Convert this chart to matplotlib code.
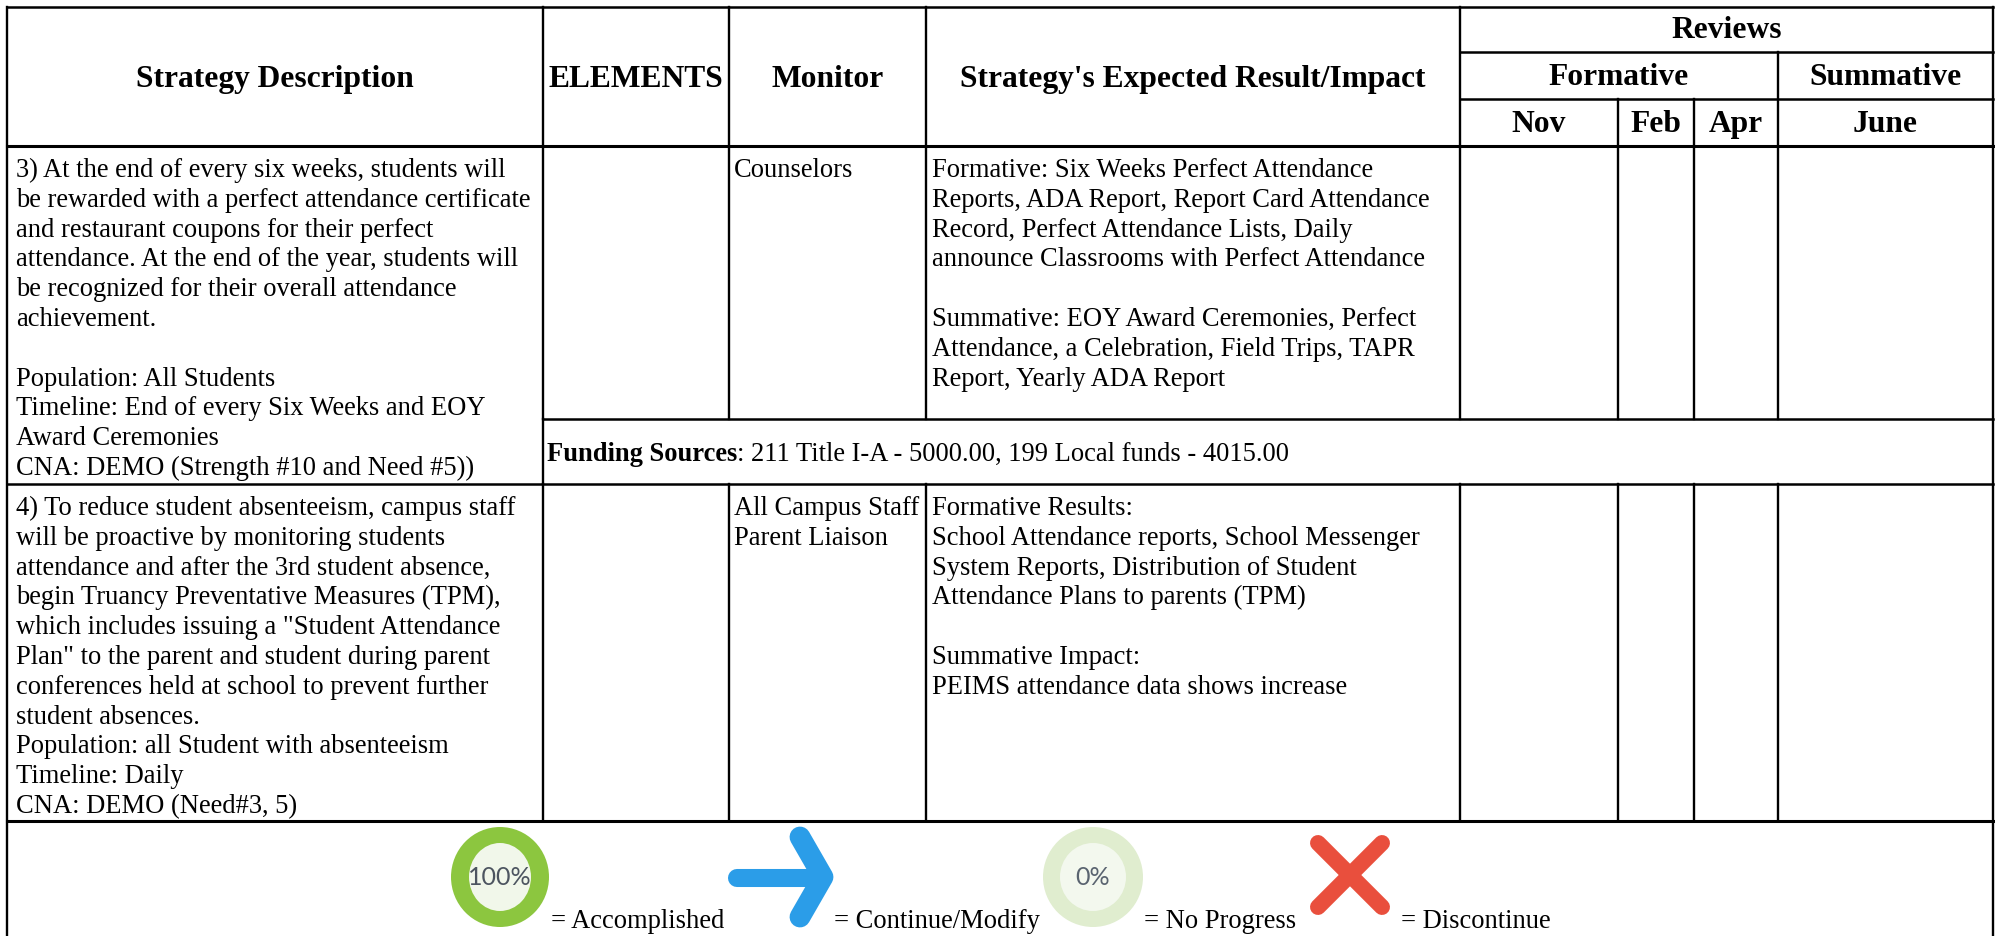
#!/usr/bin/env python3
import matplotlib
matplotlib.use('Agg')
import matplotlib.pyplot as plt
from matplotlib.patches import Ellipse

W, H = 1995, 937
BODY = 19.1
HEAD = 22.7
LINE = 29.8

# table text
headers = ['Strategy Description', 'ELEMENTS', 'Monitor', "Strategy's Expected Result/Impact"]
months = ['Nov', 'Feb', 'Apr', 'June']

strategy_3 = [
    '3) At the end of every six weeks, students will',
    'be rewarded with a perfect attendance certificate',
    'and restaurant coupons for their perfect',
    'attendance. At the end of the year, students will',
    'be recognized for their overall attendance',
    'achievement.',
    '',
    'Population: All Students',
    'Timeline: End of every Six Weeks and EOY',
    'Award Ceremonies',
    'CNA: DEMO (Strength #10 and Need #5))',
]
monitor_3 = ['Counselors']
result_3 = [
    'Formative: Six Weeks Perfect Attendance',
    'Reports, ADA Report, Report Card Attendance',
    'Record, Perfect Attendance Lists, Daily',
    'announce Classrooms with Perfect Attendance',
    '',
    'Summative: EOY Award Ceremonies, Perfect',
    'Attendance, a Celebration, Field Trips, TAPR',
    'Report, Yearly ADA Report',
]
funding = ': 211 Title I-A - 5000.00, 199 Local funds - 4015.00'

strategy_4 = [
    '4) To reduce student absenteeism, campus staff',
    'will be proactive by monitoring students',
    'attendance and after the 3rd student absence,',
    'begin Truancy Preventative Measures (TPM),',
    'which includes issuing a "Student Attendance',
    'Plan" to the parent and student during parent',
    'conferences held at school to prevent further',
    'student absences.',
    'Population: all Student with absenteeism',
    'Timeline: Daily',
    'CNA: DEMO (Need#3, 5)',
]
monitor_4 = ['All Campus Staff', 'Parent Liaison']
result_4 = [
    'Formative Results:',
    'School Attendance reports, School Messenger',
    'System Reports, Distribution of Student',
    'Attendance Plans to parents (TPM)',
    '',
    'Summative Impact:',
    'PEIMS attendance data shows increase',
]

legend_labels = ['= Accomplished', '= Continue/Modify', '= No Progress', '= Discontinue']
legend_x = [551, 834, 1144, 1401]

# grid positions in pixels
col_x = [7, 543, 729, 926, 1460, 1618, 1694, 1778, 1993]
row_y = [8, 53, 100, 147, 420, 485, 822]

plt.rcParams['font.family'] = ['Liberation Serif', 'DejaVu Serif']
fig = plt.figure(figsize=(W / 100, H / 100), dpi=100)
ax = fig.add_axes([0, 0, 1, 1])
ax.set_xlim(0, W)
ax.set_ylim(H, 0)
ax.axis('off')


def hline(y, x0, x1, lw=1.8):
    ax.plot([x0, x1], [y, y], color='black', lw=lw, solid_capstyle='projecting')


def vline(x, y0, y1, lw=1.7):
    ax.plot([x, x], [y0, y1], color='black', lw=lw, solid_capstyle='projecting')


def block(x, y, lines):
    for i, s in enumerate(lines):
        ax.text(x, y + i * LINE, s, fontsize=BODY, va='baseline', ha='left')


def head(x, y, s):
    ax.text(x, y, s, fontsize=HEAD, fontweight='bold', ha='center', va='baseline')


# outer frame and rows
hline(row_y[0], col_x[0], col_x[-1])
hline(row_y[1], col_x[4], col_x[-1])
hline(row_y[2], col_x[4], col_x[-1])
hline(row_y[3], col_x[0], col_x[-1], 2.2)
hline(row_y[4], col_x[1], col_x[-1])
hline(row_y[5], col_x[0], col_x[-1])
hline(row_y[6], col_x[0], col_x[-1], 2.2)
vline(col_x[0], row_y[0], H)
vline(col_x[-1], row_y[0], H)
for x in col_x[1:4]:
    vline(x, row_y[0], row_y[4])
    vline(x, row_y[5], row_y[6])
vline(col_x[1], row_y[4], row_y[5])
vline(col_x[4], row_y[0], row_y[4])
vline(col_x[4], row_y[5], row_y[6])
vline(col_x[7], row_y[1], row_y[4])
vline(col_x[7], row_y[5], row_y[6])
for x in col_x[5:7]:
    vline(x, row_y[2], row_y[4])
    vline(x, row_y[5], row_y[6])

# headers
head((col_x[0] + col_x[1]) / 2, 87, headers[0])
head((col_x[1] + col_x[2]) / 2, 87, headers[1])
head((col_x[2] + col_x[3]) / 2, 87, headers[2])
head((col_x[3] + col_x[4]) / 2, 87, headers[3])
head((col_x[4] + col_x[8]) / 2, 38, 'Reviews')
head((col_x[4] + col_x[7]) / 2, 85, 'Formative')
head((col_x[7] + col_x[8]) / 2, 85, 'Summative')
for i, m in enumerate(months):
    head((col_x[4 + i] + col_x[5 + i]) / 2, 132, m)

# body
block(16, 177, strategy_3)
block(734, 177, monitor_3)
block(932, 177, result_3)
block(16, 515, strategy_4)
block(734, 515, monitor_4)
block(932, 515, result_4)

t = ax.text(547, 461, 'Funding Sources', fontsize=BODY, fontweight='bold', va='baseline')
fig.canvas.draw()
ext = t.get_window_extent()
ax.text(ext.x1, 461, funding, fontsize=BODY, va='baseline')

# legend icons
ax.add_patch(Ellipse((500, 878), 98, 100, color='#8cc63f', lw=0))
ax.add_patch(Ellipse((500, 878), 62, 68, color='#f1f7ea', lw=0))
ax.text(500, 878, '100%', family='Lato', fontsize=18, color='#4d5560', ha='center', va='center')

ax.plot([737, 820], [879, 879], color='#2b9de8', lw=13, solid_capstyle='round')
ax.plot([800, 823, 800], [838, 878, 918], color='#2b9de8', lw=15,
        solid_capstyle='round', solid_joinstyle='round')

ax.add_patch(Ellipse((1093, 878), 100, 100, color='#e0edcf', lw=0))
ax.add_patch(Ellipse((1093, 878), 66, 68, color='#f3f8ee', lw=0))
ax.text(1093, 878, '0%', family='Lato', fontsize=18, color='#5a6470', ha='center', va='center')

ax.plot([1318, 1382], [844, 908], color='#e94f3d', lw=11.5, solid_capstyle='round')
ax.plot([1382, 1318], [844, 908], color='#e94f3d', lw=11.5, solid_capstyle='round')

for x, s in zip(legend_x, legend_labels):
    ax.text(x, 928, s, fontsize=BODY, va='baseline')

fig.savefig('out.png', dpi=100)
